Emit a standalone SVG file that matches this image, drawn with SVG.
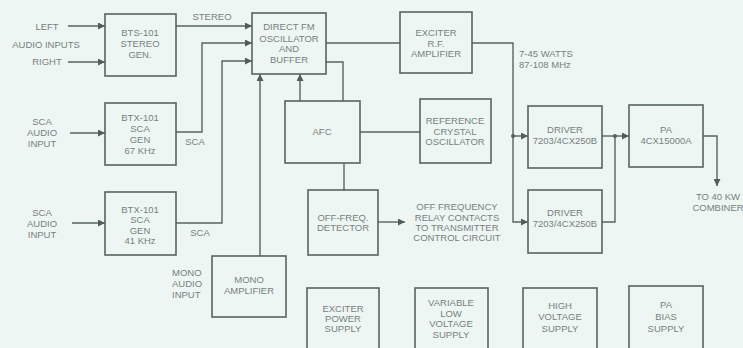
<svg xmlns="http://www.w3.org/2000/svg" width="743" height="348" viewBox="0 0 743 348">
<defs>
<marker id="ah" viewBox="0 0 10 10" refX="10" refY="5" markerWidth="7" markerHeight="7" markerUnits="userSpaceOnUse" orient="auto">
<path d="M0,0 L10,5 L0,10 z" fill="#4f5e59"/>
</marker>
<style>
.box{fill:none;stroke:#55645f;stroke-width:1.6}
.ln{fill:none;stroke:#55645f;stroke-width:1.4}
.ar{marker-end:url(#ah)}
text{font-family:"Liberation Sans",Arial,sans-serif;font-size:9.5px;fill:#76817d;text-anchor:middle}
.l{text-anchor:start}
.dot{fill:#55645f}
</style>
</defs>
<rect width="743" height="348" fill="#eef6f4"/>

<g id="connectors">
<path class="ln ar" d="M68,26 H105"/>
<path class="ln ar" d="M68,62 H105"/>
<path class="ln ar" d="M176,26 H252"/>
<path class="ln ar" d="M176,132 H202 V43 H252"/>
<path class="ln ar" d="M176,223 H222 V61 H252"/>
<path class="ln ar" d="M70,133 H105"/>
<path class="ln ar" d="M72,223 H105"/>
<path class="ln ar" d="M260,256 V74"/>
<path class="ln ar" d="M300,101 V74"/>
<path class="ln" d="M343,101 V62 H326"/>
<path class="ln" d="M326,43 H400"/>
<path class="ln" d="M360,132 H420"/>
<path class="ln" d="M344,163 V190"/>
<path class="ln ar" d="M378,222 H405"/>
<path class="ln" d="M472,43 H513 V136"/>
<path class="ln ar" d="M513,136 H528"/>
<path class="ln ar" d="M513,136 V222 H528"/>
<circle class="dot" cx="513" cy="136" r="2"/>
<path class="ln ar" d="M602,136 H629"/>
<path class="ln" d="M602,222 H615 V136"/>
<circle class="dot" cx="615" cy="136" r="2"/>
<path class="ln ar" d="M703,136 H717 V186"/>
</g>

<g id="labels">
<text x="47" y="30">LEFT</text>
<text x="46" y="48">AUDIO INPUTS</text>
<text x="47" y="65">RIGHT</text>
<text x="212" y="20">STEREO</text>
<text x="195" y="145">SCA</text>
<text x="200" y="236">SCA</text>
<text x="42" y="125">SCA</text>
<text x="42" y="136">AUDIO</text>
<text x="42" y="147">INPUT</text>
<text x="42" y="216">SCA</text>
<text x="42" y="227">AUDIO</text>
<text x="42" y="238">INPUT</text>
<text class="l" x="172" y="276">MONO</text>
<text class="l" x="172" y="287">AUDIO</text>
<text class="l" x="172" y="298">INPUT</text>
<text class="l" x="519" y="57">7-45 WATTS</text>
<text class="l" x="519" y="68">87-108 MHz</text>
<text x="457" y="210">OFF FREQUENCY</text>
<text x="457" y="221">RELAY CONTACTS</text>
<text x="457" y="231">TO TRANSMITTER</text>
<text x="457" y="241">CONTROL CIRCUIT</text>
<text x="718" y="200">TO 40 KW</text>
<text x="718" y="211">COMBINER</text>
</g>

<g id="stereo-gen">
<rect class="box" x="105" y="14" width="71" height="62"/>
<text x="140" y="36">BTS-101</text>
<text x="140" y="47">STEREO</text>
<text x="140" y="58">GEN.</text>
</g>

<g id="oscillator">
<rect class="box" x="252" y="13" width="74" height="61"/>
<text x="289" y="30">DIRECT FM</text>
<text x="289" y="42">OSCILLATOR</text>
<text x="289" y="52">AND</text>
<text x="289" y="63">BUFFER</text>
</g>

<g id="exciter-rf">
<rect class="box" x="400" y="12" width="72" height="61"/>
<text x="436" y="36">EXCITER</text>
<text x="436" y="47">R.F.</text>
<text x="436" y="57">AMPLIFIER</text>
</g>

<g id="sca-67">
<rect class="box" x="105" y="103" width="71" height="62"/>
<text x="140" y="121">BTX-101</text>
<text x="140" y="132">SCA</text>
<text x="140" y="143">GEN</text>
<text x="140" y="154">67 KHz</text>
</g>

<g id="sca-41">
<rect class="box" x="105" y="192" width="71" height="63"/>
<text x="140" y="213">BTX-101</text>
<text x="140" y="223">SCA</text>
<text x="140" y="234">GEN</text>
<text x="140" y="244">41 KHz</text>
</g>

<g id="afc">
<rect class="box" x="285" y="101" width="75" height="62"/>
<text x="322" y="135">AFC</text>
</g>

<g id="reference">
<rect class="box" x="420" y="99" width="71" height="64"/>
<text x="455" y="124">REFERENCE</text>
<text x="455" y="135">CRYSTAL</text>
<text x="455" y="145">OSCILLATOR</text>
</g>

<g id="off-freq">
<rect class="box" x="308" y="190" width="70" height="65"/>
<text x="343" y="221">OFF-FREQ.</text>
<text x="343" y="231">DETECTOR</text>
</g>

<g id="mono-amp">
<rect class="box" x="212" y="256" width="74" height="61"/>
<text x="249" y="283">MONO</text>
<text x="249" y="294">AMPLIFIER</text>
</g>

<g id="driver-1">
<rect class="box" x="528" y="106" width="74" height="62"/>
<text x="565" y="133">DRIVER</text>
<text x="565" y="144">7203/4CX250B</text>
</g>

<g id="driver-2">
<rect class="box" x="528" y="190" width="74" height="63"/>
<text x="565" y="216">DRIVER</text>
<text x="565" y="227">7203/4CX250B</text>
</g>

<g id="pa">
<rect class="box" x="629" y="105" width="74" height="62"/>
<text x="666" y="133">PA</text>
<text x="666" y="144">4CX15000A</text>
</g>

<g id="exciter-ps">
<rect class="box" x="307" y="288" width="72" height="64"/>
<text x="343" y="312">EXCITER</text>
<text x="343" y="322">POWER</text>
<text x="343" y="332">SUPPLY</text>
</g>

<g id="low-voltage-ps">
<rect class="box" x="415" y="288" width="73" height="64"/>
<text x="451" y="306">VARIABLE</text>
<text x="451" y="317">LOW</text>
<text x="451" y="327">VOLTAGE</text>
<text x="451" y="338">SUPPLY</text>
</g>

<g id="high-voltage-ps">
<rect class="box" x="523" y="288" width="74" height="64"/>
<text x="560" y="309">HIGH</text>
<text x="560" y="320">VOLTAGE</text>
<text x="560" y="332">SUPPLY</text>
</g>

<g id="pa-bias-ps">
<rect class="box" x="629" y="286" width="74" height="66"/>
<text x="666" y="308">PA</text>
<text x="666" y="320">BIAS</text>
<text x="666" y="332">SUPPLY</text>
</g>
</svg>
